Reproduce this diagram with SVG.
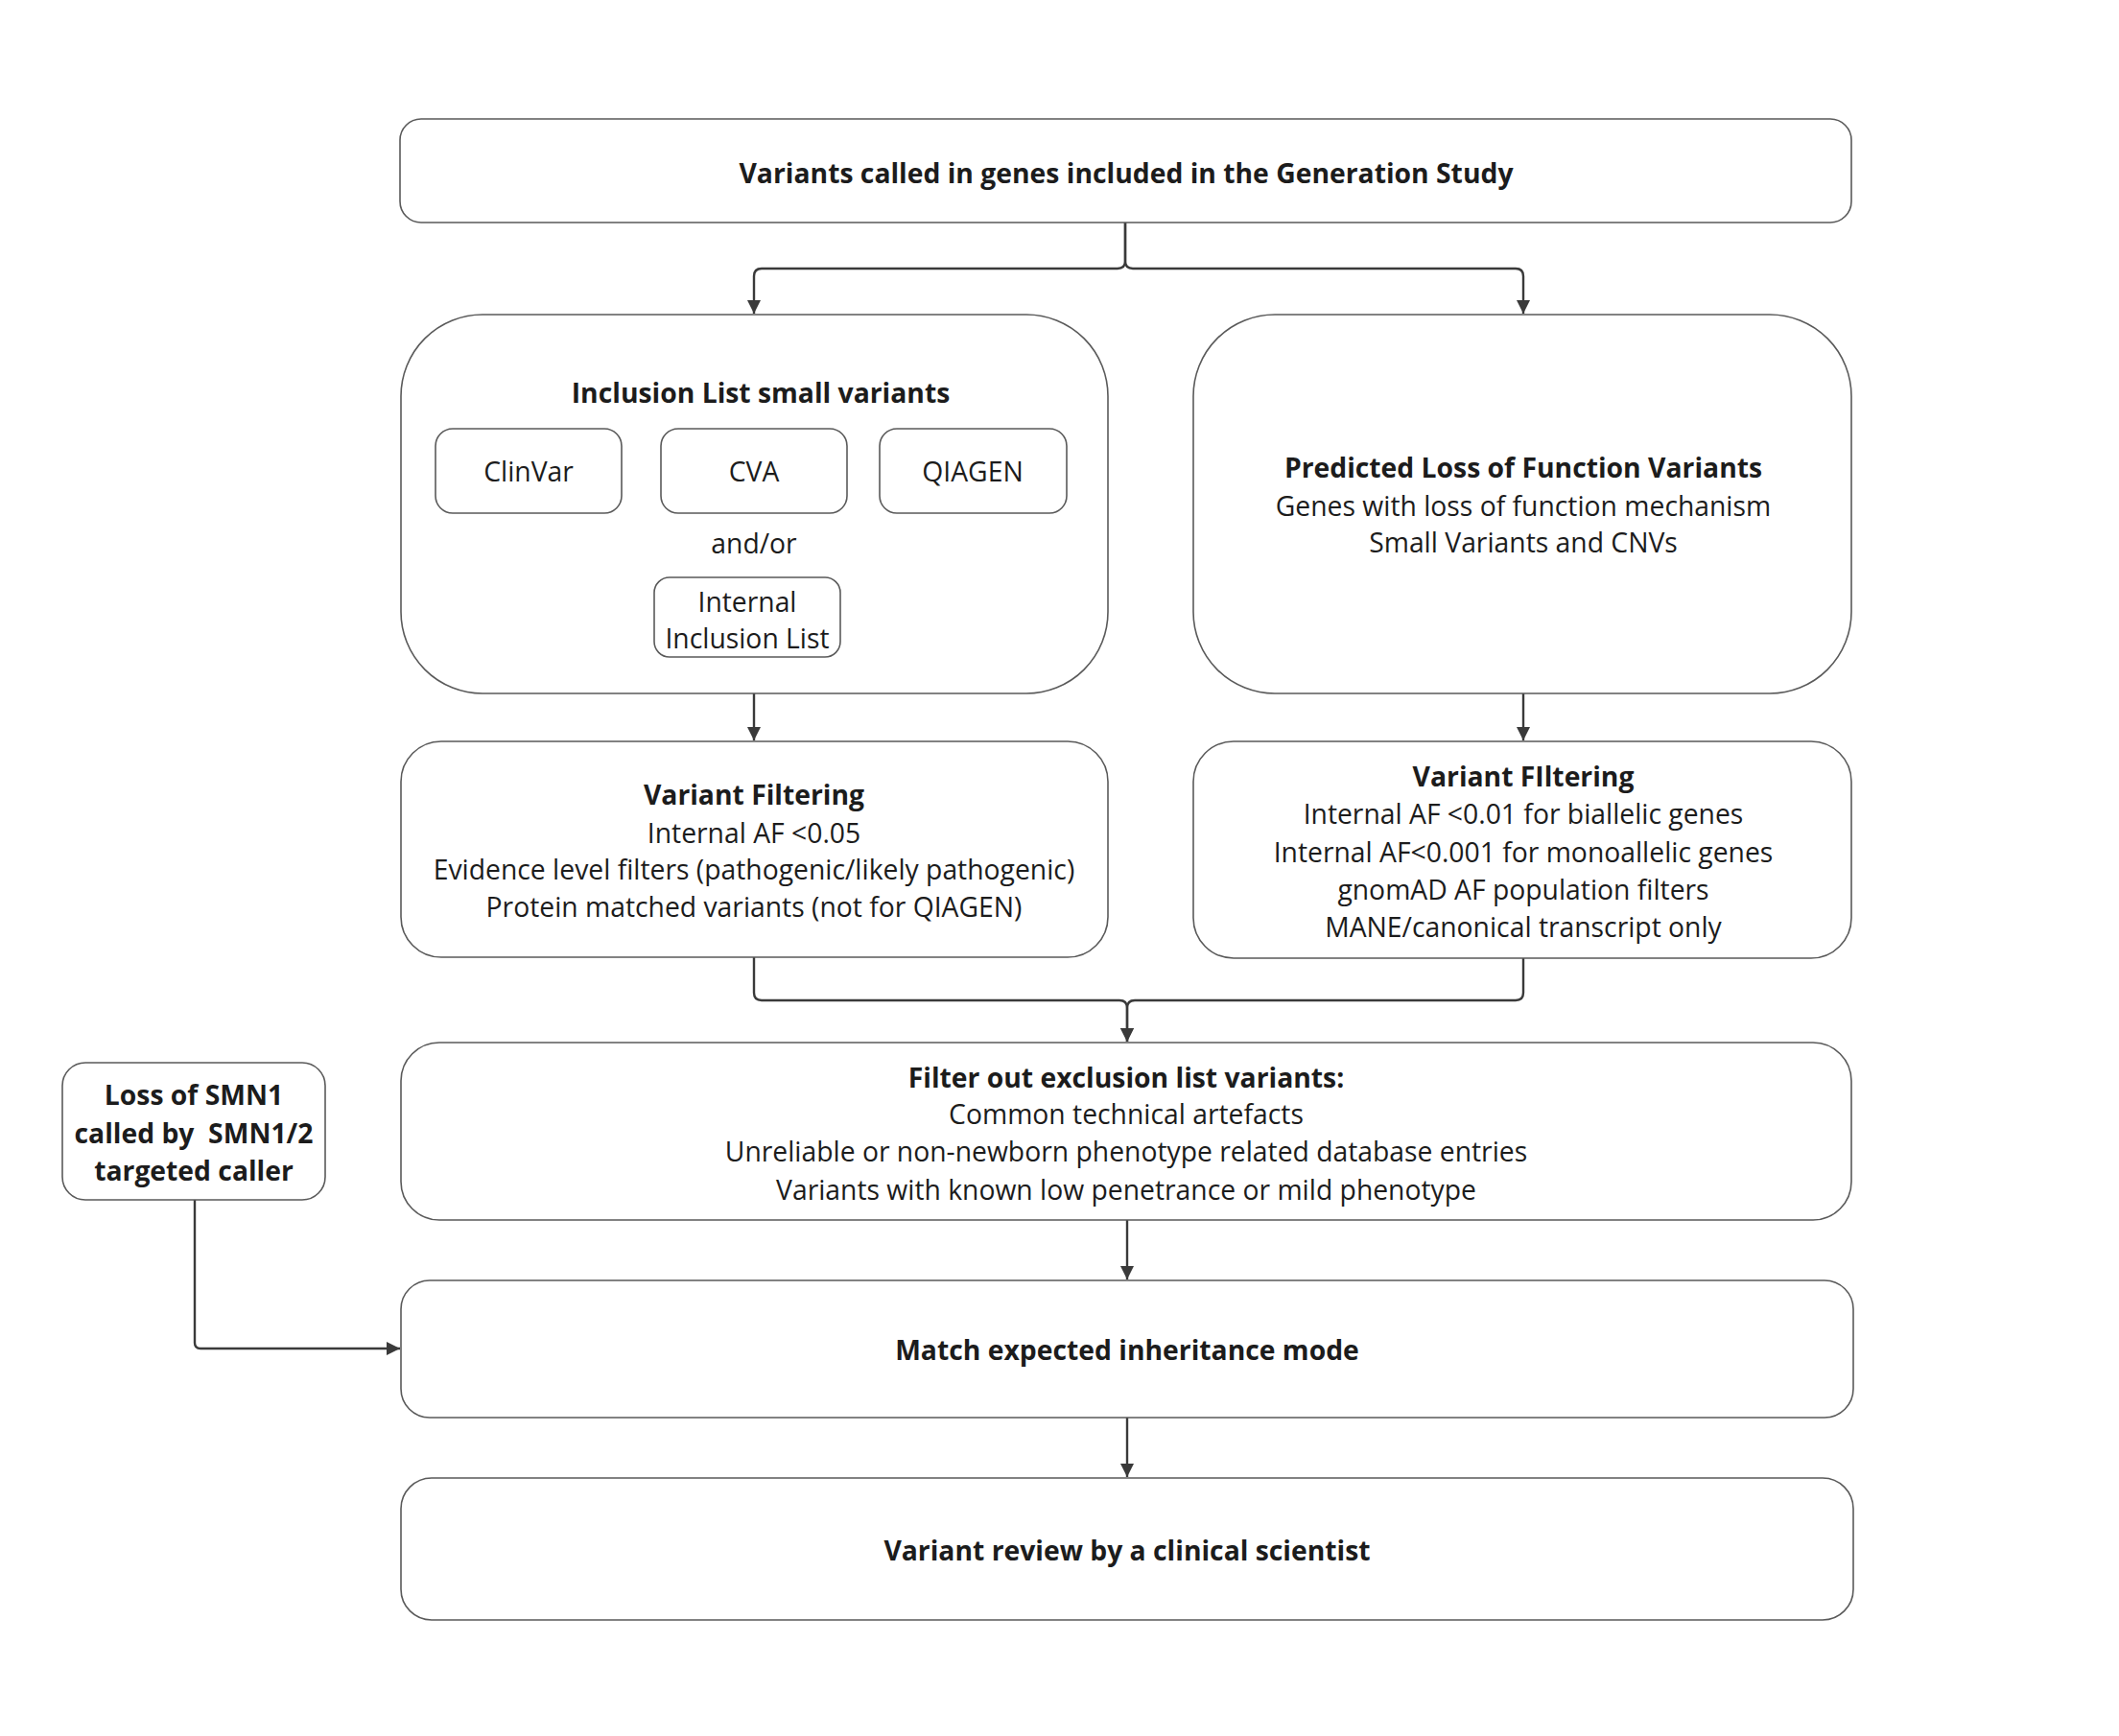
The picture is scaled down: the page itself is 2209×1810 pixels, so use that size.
<svg xmlns="http://www.w3.org/2000/svg" width="2209" height="1810" viewBox="0 0 2209 1810">
<defs>
<style>
.box{fill:#ffffff;stroke:#5a5a5a;stroke-width:1.6}
.t{font-family:"Open Sans","Noto Sans","Liberation Sans",sans-serif;font-size:28.3px;fill:#1c1c1c;text-anchor:middle;dominant-baseline:central;white-space:pre}
.b{font-weight:700}
.c{fill:none;stroke:#3a3a3a;stroke-width:2.4}
</style>
<marker id="arr" viewBox="0 0 10 10" refX="10" refY="5" markerWidth="14" markerHeight="14" markerUnits="userSpaceOnUse" orient="auto">
<path d="M0,0 L10,5 L0,10 z" fill="#3a3a3a"/>
</marker>
</defs>
<rect width="2209" height="1810" fill="#ffffff"/>

<g id="connectors">
<path class="c" d="M1173,232 V272 Q1173,280 1165,280 H794 Q786,280 786,288 V327" marker-end="url(#arr)"/>
<path class="c" d="M1173,232 V272 Q1173,280 1181,280 H1580 Q1588,280 1588,288 V327" marker-end="url(#arr)"/>
<path class="c" d="M786,723 V772" marker-end="url(#arr)"/>
<path class="c" d="M1588,723 V772" marker-end="url(#arr)"/>
<path class="c" d="M786,998 V1035 Q786,1043 794,1043 H1167 Q1175,1043 1175,1051 V1086" marker-end="url(#arr)"/>
<path class="c" d="M1588,999 V1035 Q1588,1043 1580,1043 H1183 Q1175,1043 1175,1051 V1086" marker-end="url(#arr)"/>
<path class="c" d="M1175,1272 V1334" marker-end="url(#arr)"/>
<path class="c" d="M1175,1478 V1540" marker-end="url(#arr)"/>
<path class="c" d="M203,1251 V1400 Q203,1406 209,1406 H417" marker-end="url(#arr)"/>
</g>

<g id="n-top">
<rect class="box" x="417" y="124" width="1513" height="108" rx="22"/>
<text class="t b" x="1174" y="180">Variants called in genes included in the Generation Study</text>
</g>

<g id="n-inclusion">
<rect class="box" x="418" y="328" width="737" height="395" rx="85"/>
<text class="t b" x="793" y="409">Inclusion List small variants</text>
<text class="t" x="786" y="566">and/or</text>
</g>
<g id="n-clinvar">
<rect class="box" x="454" y="447" width="194" height="88" rx="18"/>
<text class="t" x="551" y="491">ClinVar</text>
</g>
<g id="n-cva">
<rect class="box" x="689" y="447" width="194" height="88" rx="18"/>
<text class="t" x="786" y="491">CVA</text>
</g>
<g id="n-qiagen">
<rect class="box" x="917" y="447" width="195" height="88" rx="18"/>
<text class="t" x="1014" y="491">QIAGEN</text>
</g>
<g id="n-internal">
<rect class="box" x="682" y="602" width="194" height="83" rx="16"/>
<text class="t" x="779" y="627">Internal</text>
<text class="t" x="779" y="665">Inclusion List</text>
</g>

<g id="n-plof">
<rect class="box" x="1244" y="328" width="686" height="395" rx="85"/>
<text class="t b" x="1588" y="487">Predicted Loss of Function Variants</text>
<text class="t" x="1588" y="527">Genes with loss of function mechanism</text>
<text class="t" x="1588" y="565">Small Variants and CNVs</text>
</g>

<g id="n-vf-left">
<rect class="box" x="418" y="773" width="737" height="225" rx="42"/>
<text class="t b" x="786" y="828">Variant Filtering</text>
<text class="t" x="786" y="868">Internal AF &lt;0.05</text>
<text class="t" x="786" y="906">Evidence level filters (pathogenic/likely pathogenic)</text>
<text class="t" x="786" y="945">Protein matched variants (not for QIAGEN)</text>
</g>

<g id="n-vf-right">
<rect class="box" x="1244" y="773" width="686" height="226" rx="42"/>
<text class="t b" x="1588" y="809">Variant FIltering</text>
<text class="t" x="1588" y="848">Internal AF &lt;0.01 for biallelic genes</text>
<text class="t" x="1588" y="888">Internal AF&lt;0.001 for monoallelic genes</text>
<text class="t" x="1588" y="927">gnomAD AF population filters</text>
<text class="t" x="1588" y="966">MANE/canonical transcript only</text>
</g>

<g id="n-exclusion">
<rect class="box" x="418" y="1087" width="1512" height="185" rx="40"/>
<text class="t b" x="1174" y="1123">Filter out exclusion list variants:</text>
<text class="t" x="1174" y="1161">Common technical artefacts</text>
<text class="t" x="1174" y="1200">Unreliable or non-newborn phenotype related database entries</text>
<text class="t" x="1174" y="1240">Variants with known low penetrance or mild phenotype</text>
</g>

<g id="n-smn">
<rect class="box" x="65" y="1108" width="274" height="143" rx="24"/>
<text class="t b" x="202" y="1141">Loss of SMN1</text>
<text class="t b" x="202" y="1181">called by  SMN1/2</text>
<text class="t b" x="202" y="1220">targeted caller</text>
</g>

<g id="n-match">
<rect class="box" x="418" y="1335" width="1514" height="143" rx="30"/>
<text class="t b" x="1175" y="1407">Match expected inheritance mode</text>
</g>

<g id="n-review">
<rect class="box" x="418" y="1541" width="1514" height="148" rx="32"/>
<text class="t b" x="1175" y="1616">Variant review by a clinical scientist</text>
</g>
</svg>
